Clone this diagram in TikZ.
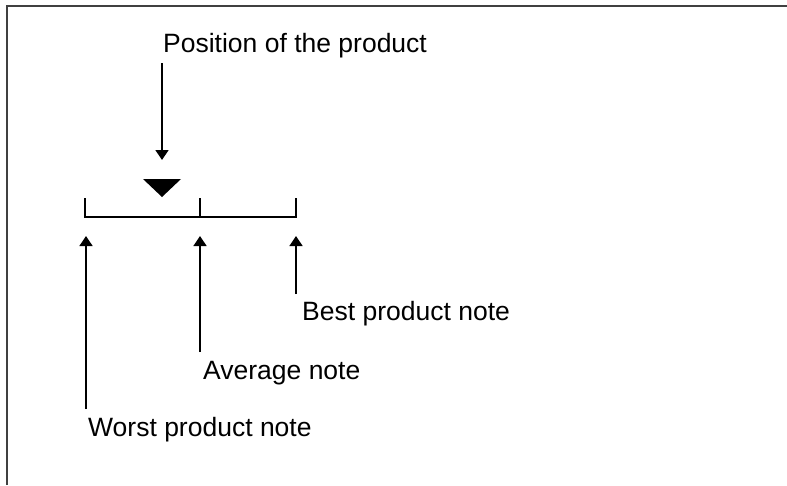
\documentclass[tikz,border=0pt]{standalone}
\usepackage{fontspec}
\setmainfont{Liberation Sans}
\usetikzlibrary{arrows.meta}
\begin{document}
\begin{tikzpicture}[x=1pt,y=-1pt,
  lbl/.style={anchor=base west,inner sep=0pt,font=\fontsize{26.5}{31}\selectfont},
  arr/.style={line width=1.4pt,-{Triangle[width=13pt,length=10pt]}},
  scl/.style={line width=1.4pt},
  frame/.style={line width=2pt,draw=black!75}]
\useasboundingbox (0,0) rectangle (787,485);
\draw[frame] (7,485) -- (7,6) -- (787,6);
% labels
\node[lbl] (pos) at (163,52) {Position of the product};
\node[lbl] (best) at (302,320) {Best product note};
\node[lbl] (avg) at (203,379) {Average note};
\node[lbl] (worst) at (88,436) {Worst product note};
% arrow endpoints
\coordinate (ps) at (162,63);
\coordinate (pe) at (162,160);
\coordinate (ws) at (86,409);
\coordinate (we) at (86,236);
\coordinate (as) at (200,352);
\coordinate (ae) at (200,236);
\coordinate (bs) at (296,294);
\coordinate (be) at (296,236);
\draw[arr] (ps) -- (pe);
\draw[arr] (ws) -- (we);
\draw[arr] (as) -- (ae);
\draw[arr] (bs) -- (be);
% marker
\fill (143,179) -- (181,179) -- (162,197) -- cycle;
% scale
\coordinate (s1) at (85,217);
\coordinate (s2) at (200,217);
\coordinate (s3) at (296,217);
\draw[scl] (85,198) -- (s1) -- (s3) -- (296,198);
\draw[scl] (200,198) -- (s2);
\end{tikzpicture}
\end{document}
